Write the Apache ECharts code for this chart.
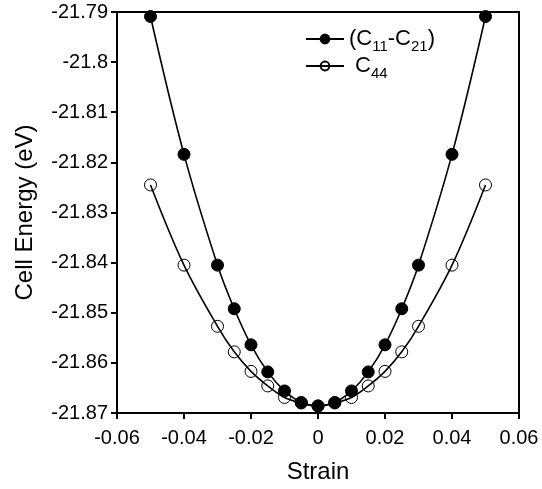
<!DOCTYPE html>
<html>
<head>
<meta charset="UTF-8">
<title>Cell Energy vs Strain</title>
<script src="https://cdn.jsdelivr.net/npm/echarts@6/dist/echarts.min.js"></script>
<style>
  html, body { margin: 0; padding: 0; background: #fff; }
  #main { width: 542px; height: 489px; }
</style>
</head>
<body>
<div id="main"></div>
<script>
// strain values
var strain = [-0.05, -0.04, -0.03, -0.025, -0.02, -0.015, -0.01, -0.005, 0,
              0.005, 0.01, 0.015, 0.02, 0.025, 0.03, 0.04, 0.05];
// (C11-C21) energies
var c11c21 = [-21.7909, -21.8184, -21.8405, -21.8492, -21.8564, -21.8618, -21.8656, -21.8679, -21.8686,
              -21.8679, -21.8656, -21.8618, -21.8564, -21.8492, -21.8405, -21.8184, -21.7909];
// C44 energies
var c44 = [-21.8245, -21.8405, -21.8527, -21.8578, -21.8617, -21.8646, -21.8669, -21.8680, -21.8686,
           -21.8680, -21.8669, -21.8646, -21.8617, -21.8578, -21.8527, -21.8405, -21.8245];

function pairs(xs, ys) {
    var out = [];
    for (var i = 0; i < xs.length; i++) out.push([xs[i], ys[i]]);
    return out;
}

var font = 'Liberation Sans, Arial, sans-serif';
var chart = echarts.init(document.getElementById('main'));

var option = {
    backgroundColor: '#fff',
    animation: false,
    grid: { left: 117, right: 23, top: 12, bottom: 76 },
    legend: {
        orient: 'vertical',
        left: 300,
        top: 23,
        itemWidth: 38,
        itemHeight: 11,
        itemGap: 1,
        data: ['c1', 'c2'],
        formatter: function (name) {
            if (name === 'c1') return '{a|(C}{s|11}{a|-C}{s|21}{a|)}';
            return '{a| C}{s|44}';
        },
        textStyle: {
            fontFamily: font,
            color: '#000',
            rich: {
                a: { fontSize: 22, fontFamily: font, color: '#000', lineHeight: 30 },
                s: { fontSize: 15, fontFamily: font, color: '#000', lineHeight: 11, verticalAlign: 'bottom' }
            }
        }
    },
    xAxis: {
        type: 'value',
        min: -0.06,
        max: 0.06,
        interval: 0.02,
        name: 'Strain',
        nameLocation: 'middle',
        nameGap: 47,
        nameTextStyle: { fontFamily: font, fontSize: 24, color: '#000' },
        axisLine: { onZero: false, lineStyle: { color: '#000', width: 2 } },
        axisTick: { inside: false, length: 6, lineStyle: { color: '#000', width: 2 } },
        axisLabel: {
            fontFamily: font, fontSize: 20, color: '#000', margin: 15,
            formatter: function (v) { return String(+v.toFixed(2)); }
        },
        splitLine: { show: false }
    },
    yAxis: {
        type: 'value',
        min: -21.87,
        max: -21.79,
        interval: 0.01,
        name: 'Cell Energy (eV)',
        nameLocation: 'middle',
        nameGap: 80,
        nameTextStyle: { fontFamily: font, fontSize: 24, color: '#000' },
        axisLine: { onZero: false, lineStyle: { color: '#000', width: 2 } },
        axisTick: { inside: false, length: 6, lineStyle: { color: '#000', width: 2 } },
        axisLabel: {
            fontFamily: font, fontSize: 20, color: '#000', margin: 9,
            formatter: function (v) { return String(+v.toFixed(2)); }
        },
        splitLine: { show: false }
    },
    graphic: [{
        type: 'rect',
        shape: { x: 117, y: 12, width: 402, height: 401 },
        style: { fill: 'none', stroke: '#000', lineWidth: 2 },
        silent: true,
        z: 10
    }],
    series: [
        {
            name: 'c2',
            type: 'line',
            data: pairs(strain, c44),
            smooth: 0.35,
            symbol: 'circle',
            symbolSize: 12,
            lineStyle: { color: '#000', width: 1.6 },
            itemStyle: { color: 'rgba(255,255,255,0)', borderColor: '#000', borderWidth: 1 },
            z: 2
        },
        {
            name: 'c1',
            type: 'line',
            data: pairs(strain, c11c21),
            smooth: 0.35,
            symbol: 'circle',
            symbolSize: 12,
            lineStyle: { color: '#000', width: 1.6 },
            itemStyle: { color: '#000', borderColor: '#000', borderWidth: 1 },
            z: 3
        }
    ]
};
chart.setOption(option);
</script>
</body>
</html>
